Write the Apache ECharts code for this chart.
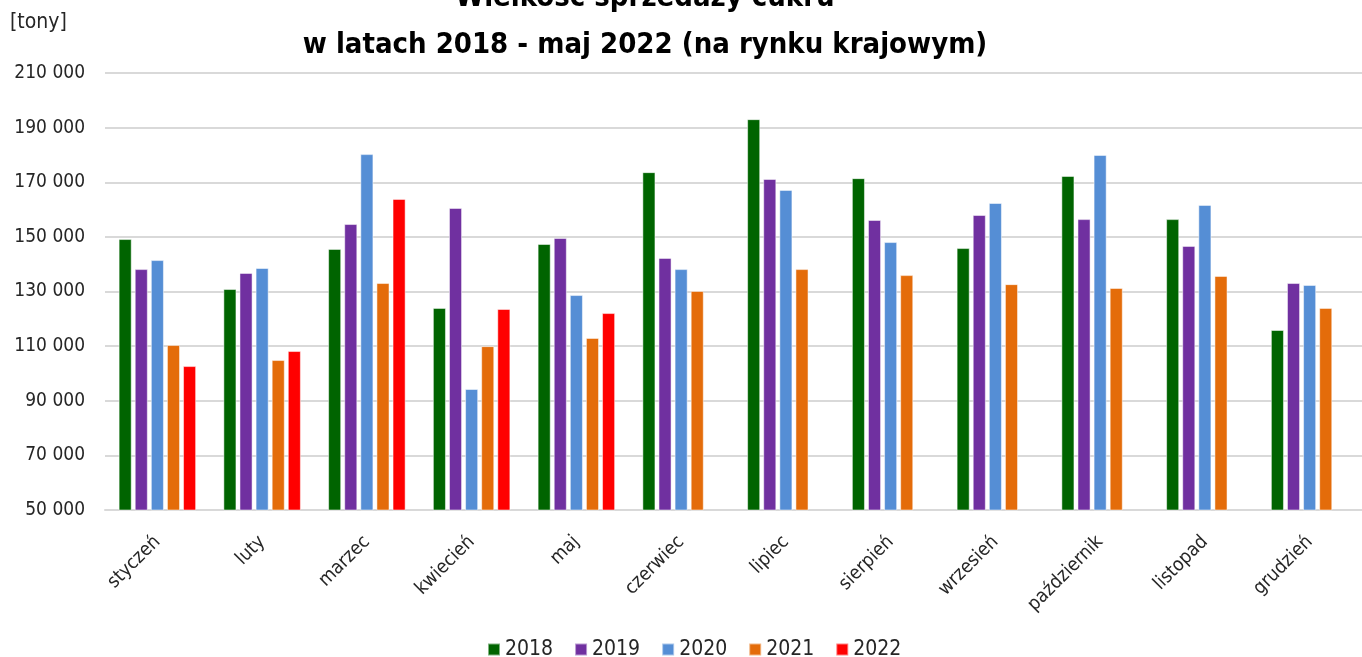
<!DOCTYPE html>
<html>
<head>
<meta charset="utf-8">
<script src="https://cdn.jsdelivr.net/npm/echarts@6/dist/echarts.min.js"></script>
<style>
  html, body { margin: 0; padding: 0; background: #fff; }
  #chart { width: 1362px; height: 657px; }
</style>
</head>
<body>
<div id="chart"></div>
<script>
// months (x axis)
const months = ["styczeń", "luty", "marzec", "kwiecień", "maj", "czerwiec",
  "lipiec", "sierpień", "wrzesień", "październik", "listopad", "grudzień"];

// sales in tonnes
const s2018 = [149200, 130900, 145600, 124000, 147400, 173700, 193100, 171500, 145900, 172300, 156500, 115900];
const s2019 = [138200, 136800, 154700, 160600, 149600, 142300, 171200, 156200, 158000, 156500, 146700, 133100];
const s2020 = [141500, 138600, 180300, 94300, 128700, 138200, 167200, 148100, 162400, 180000, 161700, 132400];
const s2021 = [110400, 104900, 133100, 110000, 113000, 130200, 138200, 136000, 132700, 131300, 135700, 124000];
const s2022 = [102700, 108200, 163900, 123600, 122100, null, null, null, null, null, null, null];

const years = ["2018", "2019", "2020", "2021", "2022"];
const colors = ["#006400", "#7030a0", "#558ed5", "#e46c0a", "#ff0000"];

const FONT = '"Liberation Sans Narrow", "DejaVu Sans Condensed", "Noto Sans", sans-serif';
const TXT = "#262626";

var chartDom = document.getElementById("chart");
var myChart = echarts.init(chartDom);

const fmt = (v) => String(v).replace(/\B(?=(\d{3})+(?!\d))/g, " ");

const bar = (name, data, color) => ({
  name: name,
  type: "bar",
  data: data,
  barGap: "23%",
  barCategoryGap: "26%",
  itemStyle: {
    color: color,
    borderColor: "rgba(255,255,255,0.5)",
    borderWidth: 1,
  },
});

var option = {
  backgroundColor: "#fff",
  textStyle: { fontFamily: FONT },
  color: colors,
  graphic: [
    {
      type: "text",
      x: 645,
      y: -2,
      style: {
        text: "Wielkość sprzedaży cukru",
        textAlign: "center",
        textVerticalAlign: "middle",
        fontSize: 29,
        fontWeight: "bold",
        fontFamily: FONT,
        fill: "#000",
      },
    },
    {
      type: "text",
      x: 645,
      y: 45,
      style: {
        text: "w latach 2018 - maj 2022 (na rynku krajowym)",
        textAlign: "center",
        textVerticalAlign: "middle",
        fontSize: 29,
        fontWeight: "bold",
        fontFamily: FONT,
        fill: "#000",
      },
    },
    {
      type: "text",
      x: 10,
      y: 23,
      style: {
        text: "[tony]",
        textAlign: "left",
        textVerticalAlign: "middle",
        fontSize: 21,
        fontFamily: FONT,
        fill: TXT,
      },
    },
  ],
  legend: {
    top: 639,
    left: 487,
    padding: 0,
    icon: "rect",
    itemWidth: 12,
    itemHeight: 12,
    itemGap: 21,
    textStyle: { fontSize: 21, color: TXT, fontFamily: FONT },
    data: years,
  },
  grid: {
    left: 105,
    right: 0,
    top: 73,
    bottom: 147,
    containLabel: false,
  },
  xAxis: {
    type: "category",
    data: months,
    axisTick: { show: false },
    axisLine: { lineStyle: { color: "#d9d9d9", width: 2 } },
    axisLabel: {
      rotate: 45,
      interval: 0,
      fontSize: 19,
      color: TXT,
      margin: 29,
    },
  },
  yAxis: {
    type: "value",
    min: 50000,
    max: 210000,
    interval: 20000,
    axisLine: { show: false },
    axisTick: { show: false },
    splitLine: { lineStyle: { color: "#d9d9d9", width: 2 } },
    axisLabel: {
      fontSize: 19,
      color: TXT,
      margin: 20,
      formatter: fmt,
    },
  },
  series: [
    bar(years[0], s2018, colors[0]),
    bar(years[1], s2019, colors[1]),
    bar(years[2], s2020, colors[2]),
    bar(years[3], s2021, colors[3]),
    bar(years[4], s2022, colors[4]),
  ],
};

option && myChart.setOption(option);
</script>
</body>
</html>
